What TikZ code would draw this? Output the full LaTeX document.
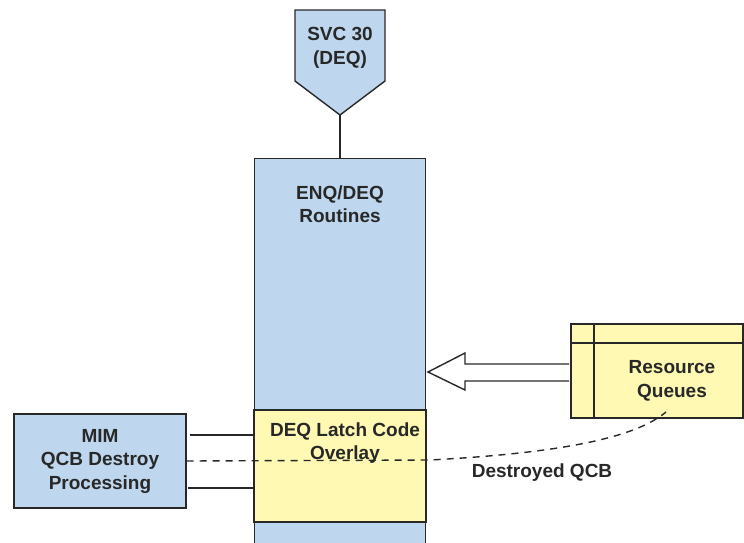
\documentclass[tikz,border=0pt]{standalone}
\usepackage{fontspec}
\setmainfont{Liberation Sans}
\definecolor{paleblue}{RGB}{190,215,238}
\definecolor{paleyellow}{RGB}{255,249,180}
\definecolor{inkgray}{RGB}{40,40,40}
\tikzset{
  box/.style={draw=inkgray, line width=1.4pt, inner sep=0pt},
  bluebox/.style={box, fill=paleblue},
  yellowbox/.style={box, fill=paleyellow},
  lbl/.style={text=inkgray, font=\bfseries\fontsize{19}{23.5}\selectfont, align=center},
  link/.style={draw=inkgray, line width=1.4pt},
  dashlink/.style={link, dash pattern=on 7pt off 6pt}
}
\begin{document}
\begin{tikzpicture}[x=1pt, y=-1pt]
  \useasboundingbox (0,0) rectangle (744,542);
  % SVC entry (pentagon)
  \draw[bluebox] (295,10) -- (385,10) -- (385,81) -- (340,115) -- (295,81) -- cycle;
  \coordinate (svctip) at (340,115);
  \node[lbl] (svc) at (340,48) {SVC 30\\(DEQ)};
  % ENQ/DEQ column
  \node[bluebox, minimum width=171, minimum height=420, anchor=north] (routines) at (340,158) {};
  \node[lbl] (routinestxt) at (340,204) {ENQ/DEQ\\Routines};
  \draw[link] (svctip) -- (routines.north);
  % latch overlay
  \node[yellowbox, minimum width=172, minimum height=112] (latch) at (340,466) {};
  \node[lbl] (latchtxt) at (345,443) {DEQ Latch Code\\Overlay};
  % MIM
  \node[bluebox, minimum width=172, minimum height=94] (mim) at (100,461) {};
  \node[lbl] (mimtxt) at (100,461) {MIM\\QCB Destroy\\Processing};
  \coordinate (mimup) at (190,435);
  \coordinate (mimdown) at (188,488);
  \draw[link] (mimup) -- (latch.west |- mimup);
  \draw[link] (mimdown) -- (latch.west |- mimdown);
  % resource queues
  \node[yellowbox, minimum width=172, minimum height=94] (queues) at (657,371) {};
  \draw[link] (queues.west |- 0,343) -- (queues.east |- 0,343);
  \draw[link] (queues.north -| 594,0) -- (queues.south -| 594,0);
  \node[lbl] (queuestxt) at (672,381) {Resource\\Queues};
  % hollow arrow
  \draw[box, fill=white] (569,364) -- (465,364) -- (465,353) -- (428,372)
    -- (465,390) -- (465,381) -- (569,381);
  % destroyed QCB path
  \coordinate (qcbend) at (666,412);
  \draw[dashlink] (mim.east) -- (430,460) .. controls (560,453) and (635,438) .. (qcbend);
  \node[lbl] (destroyed) at (542,473) {Destroyed QCB};
\end{tikzpicture}
\end{document}
